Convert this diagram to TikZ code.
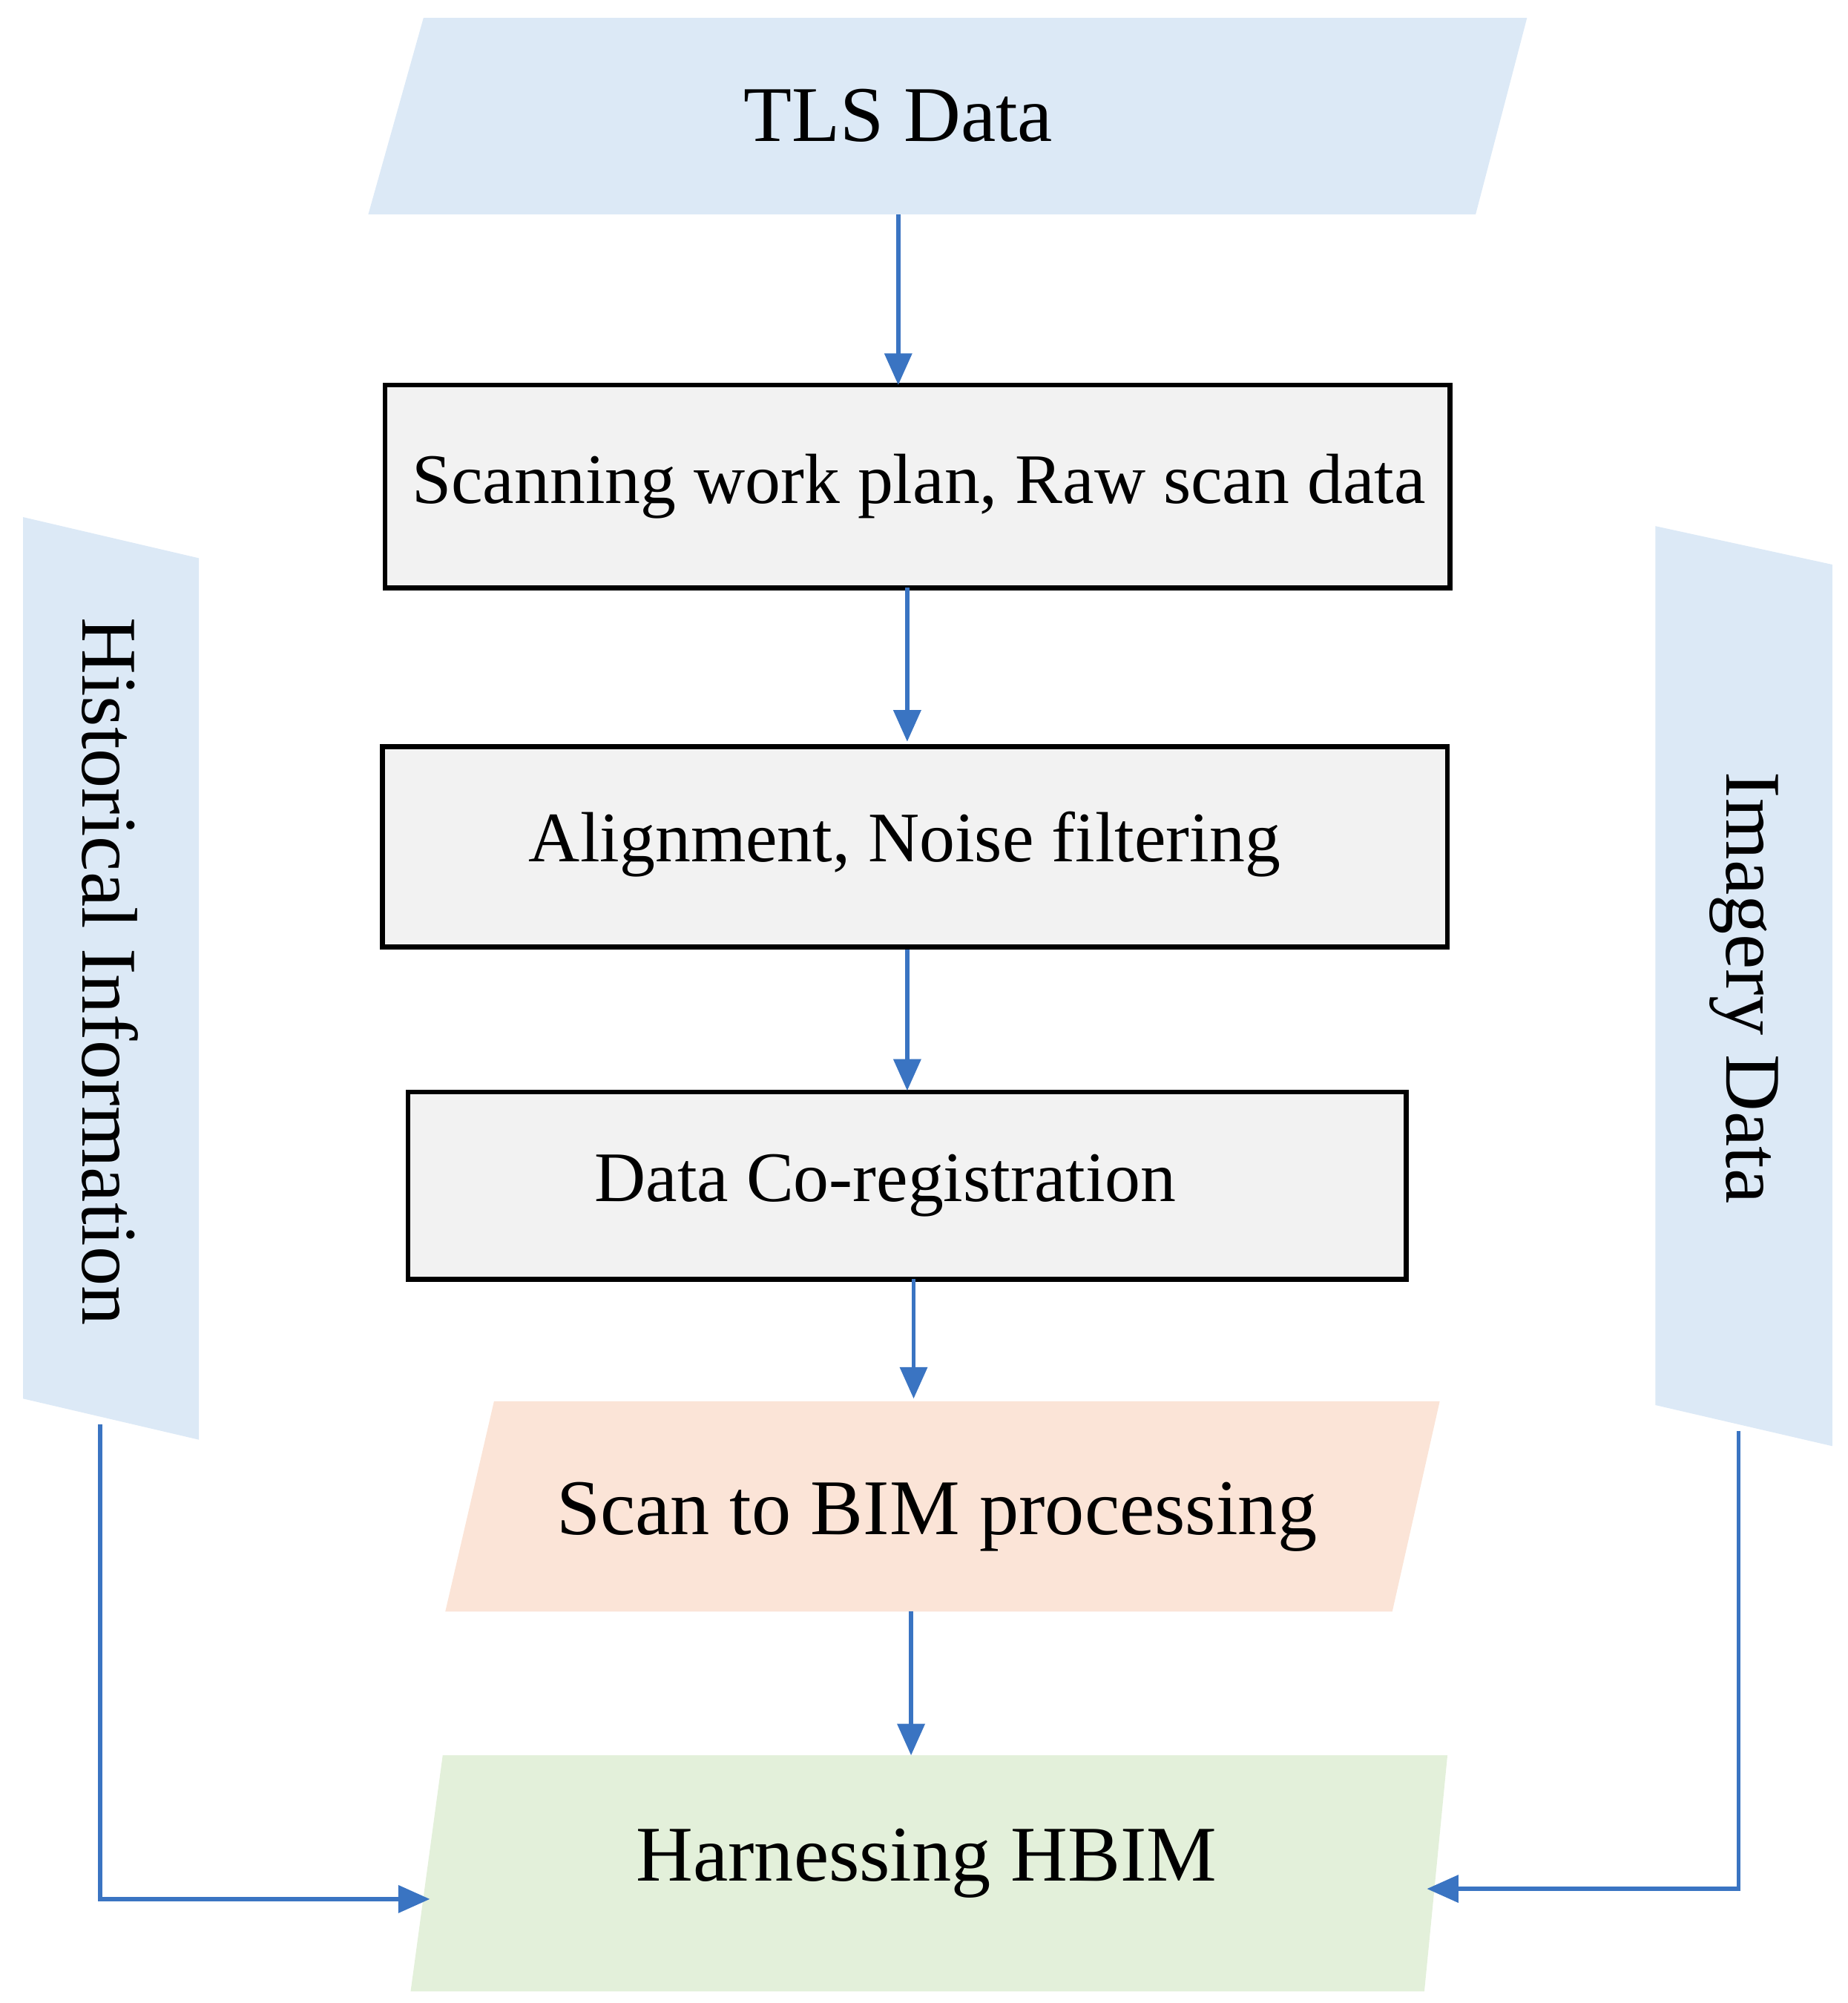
\documentclass[tikz,border=0pt]{standalone}
\usepackage{fontspec}
\setmainfont{Liberation Serif}
\usetikzlibrary{arrows.meta}
\definecolor{pblue}{HTML}{DCE9F6}
\definecolor{porange}{HTML}{FBE4D7}
\definecolor{pgreen}{HTML}{E3F0DA}
\definecolor{boxg}{HTML}{F2F2F2}
\definecolor{arr}{HTML}{3A74C2}
\begin{document}
\begin{tikzpicture}[x=0.02cm,y=-0.02cm,
  box/.style={draw=black,line width=2.2pt,fill=boxg},
  txt/.style={font=\fontsize{31.5}{36}\selectfont},
  big/.style={font=\fontsize{35}{42}\selectfont},
  conn/.style={draw=arr,line width=1.8pt,-{Triangle[length=14pt,width=12pt]}}]
\useasboundingbox (0,0) rectangle (1440,1561);
% shapes
\fill[pblue] (330,14) -- (1190,14) -- (1150,167) -- (287,167) -- cycle;
\fill[porange] (385,1092) -- (1122,1092) -- (1085,1256) -- (347,1256) -- cycle;
\fill[pgreen] (345,1368) -- (1128,1368) -- (1110,1552) -- (320,1552) -- cycle;
\fill[pblue] (18,403) -- (155,435) -- (155,1122) -- (18,1090) -- cycle;
\fill[pblue] (1290,410) -- (1428,440) -- (1428,1127) -- (1290,1095) -- cycle;
\draw[box] (300,300) rectangle (1130,458);
\draw[box] (298,582) rectangle (1128,738);
\draw[box] (318,851) rectangle (1096,997);
% nodes
\node[big] (tls) at (700,90) {TLS Data};
\node[txt] (b1) at (716,379) {Scanning work plan, Raw scan data};
\node[txt] (b2) at (705,658) {Alignment, Noise filtering};
\node[txt] (b3) at (690,924) {Data Co-registration};
\node[big] (s2b) at (730,1182) {Scan to BIM processing};
\node[big] (hb) at (722,1452) {Harnessing HBIM};
\node[big,rotate=-90] (hist) at (86,757) {Historical Information};
\node[big,rotate=-90] (img) at (1359,770) {Imagery Data};
% connector endpoints
\coordinate (a0) at (700,167); \coordinate (a1) at (700,300);
\coordinate (c0) at (707,458); \coordinate (c1) at (707,578);
\coordinate (d0) at (707,740); \coordinate (d1) at (707,850);
\coordinate (e0) at (712,997); \coordinate (e1) at (712,1090);
\coordinate (f0) at (710,1256); \coordinate (f1) at (710,1368);
\coordinate (l0) at (78,1110); \coordinate (l1) at (335,1480);
\coordinate (r0) at (1355,1115); \coordinate (r1) at (1112,1472);
\draw[conn] (a0) -- (a1);
\draw[conn] (c0) -- (c1);
\draw[conn] (d0) -- (d1);
\draw[conn] (e0) -- (e1);
\draw[conn] (f0) -- (f1);
\draw[conn] (l0) |- (l1);
\draw[conn] (r0) |- (r1);
\end{tikzpicture}
\end{document}
